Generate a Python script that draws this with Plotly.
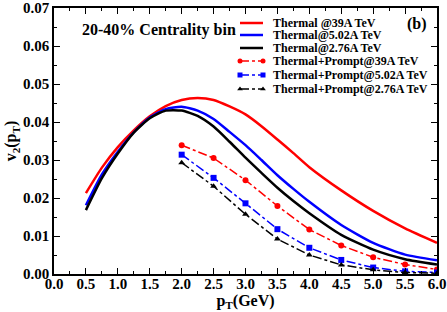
import plotly.graph_objects as go

pt_th = [0.5, 0.75, 1.0, 1.25, 1.5, 1.75, 2.0, 2.25, 2.5, 2.75, 3.0, 3.25, 3.5, 3.75, 4.0, 4.5, 5.0, 5.5, 6.0]
th_39 = [0.0213, 0.0280, 0.0334, 0.0378, 0.0415, 0.0442, 0.0458, 0.0463, 0.0458, 0.0441, 0.0420, 0.0389, 0.0354, 0.0318, 0.0281, 0.0220, 0.0166, 0.0120, 0.0082]
th_502 = [0.0181, 0.0262, 0.0322, 0.0373, 0.0412, 0.0434, 0.0440, 0.0430, 0.0408, 0.0374, 0.0339, 0.0300, 0.0260, 0.0224, 0.0190, 0.0129, 0.0082, 0.0051, 0.0036]
th_276 = [0.0168, 0.0252, 0.0317, 0.0372, 0.0410, 0.0430, 0.0430, 0.0416, 0.0388, 0.0348, 0.0306, 0.0266, 0.0227, 0.0192, 0.0160, 0.0103, 0.0064, 0.0039, 0.0025]

pt_pr = [2.0, 2.5, 3.0, 3.5, 4.0, 4.5, 5.0, 5.5, 6.0]
pr_39 = [0.0339, 0.0305, 0.0247, 0.0179, 0.0117, 0.0075, 0.0044, 0.0025, 0.0012]
pr_502 = [0.0314, 0.0253, 0.0186, 0.0118, 0.0069, 0.0037, 0.0017, 0.0007, 0.0004]
pr_276 = [0.0293, 0.0231, 0.0157, 0.0092, 0.0050, 0.0024, 0.0011, 0.0004, 0.0002]

x_ticks = [0.0, 0.5, 1.0, 1.5, 2.0, 2.5, 3.0, 3.5, 4.0, 4.5, 5.0, 5.5, 6.0]
y_ticks = [0.00, 0.01, 0.02, 0.03, 0.04, 0.05, 0.06, 0.07]

thermal_names = ["Thermal @39A TeV", "Thermal@5.02A TeV", "Thermal@2.76A TeV"]
prompt_names = ["Thermal+Prompt@39A TeV", "Thermal+Prompt@5.02A TeV", "Thermal+Prompt@2.76A TeV"]

FONT = "Liberation Serif"
RED, BLUE, BLACK = "#ff0000", "#0000ff", "#000000"
colors = [RED, BLUE, BLACK]
symbols = ["circle", "square", "triangle-up"]

W, H = 447, 312
ML, MR, MT, MB = 54, 10, 8, 38
PW, PH = W - ML - MR, H - MT - MB


def px(xp):
    return (xp - ML) / PW


def py(yp):
    return (H - MB - yp) / PH


fig = go.Figure()
for name, y, c in zip(thermal_names, [th_39, th_502, th_276], colors):
    fig.add_trace(go.Scatter(x=pt_th, y=y, mode="lines", name=name, showlegend=False,
                             line=dict(color=c, width=2.5, shape="spline", smoothing=0.6)))
for name, y, c, sym in zip(prompt_names, [pr_39, pr_502, pr_276], colors, symbols):
    fig.add_trace(go.Scatter(x=pt_pr, y=y, mode="lines+markers", name=name, showlegend=False,
                             line=dict(color=c, width=1.5, dash="dashdot"),
                             marker=dict(symbol=sym, size=6, color=c)))

tickfont = dict(family=FONT, size=15, color="black", weight="bold")
axis_common = dict(showline=True, linecolor="black", linewidth=1.5, mirror="ticks",
                   ticks="inside", ticklen=6, tickwidth=1, tickcolor="black",
                   showgrid=False, zeroline=False, automargin=False, tickfont=tickfont)
fig.update_xaxes(range=[0, 6], tickvals=x_ticks, ticktext=[f"{v:.1f}" for v in x_ticks],
                 minor=dict(ticks="inside", ticklen=3, dtick=0.25, tickcolor="black"),
                 title=dict(text="p<sub>T</sub>(GeV)", font=dict(family=FONT, size=16, color="black", weight="bold"), standoff=0),
                 ticklabelstandoff=-5,
                 **axis_common)
fig.update_yaxes(range=[0, 0.07], tickvals=y_ticks, ticktext=[f"{v:.2f}" for v in y_ticks],
                 minor=dict(ticks="inside", ticklen=3, dtick=0.005, tickcolor="black"),
                 title=dict(text="v<sub>2</sub>(p<sub>T</sub>)", font=dict(family=FONT, size=16, color="black", weight="bold"), standoff=2),
                 **axis_common)

shapes = []
annotations = [
    dict(text="<b>20-40% Centrality bin</b>", x=px(80), y=py(30), xref="paper", yref="paper",
         xanchor="left", yanchor="middle", showarrow=False, font=dict(family=FONT, size=16, color="black")),
    dict(text="<b>(b)</b>", x=px(429), y=py(24), xref="paper", yref="paper",
         xanchor="right", yanchor="middle", showarrow=False, font=dict(family=FONT, size=16, color="black")),
]
rows = [23, 35, 48, 61, 75, 89]
lx0, lx1, tx = 240, 263, 271
all_names = thermal_names + prompt_names
for i, (name, yrow) in enumerate(zip(all_names, rows)):
    c = colors[i % 3]
    if i < 3:
        shapes.append(dict(type="line", xref="paper", yref="paper", x0=px(lx0), x1=px(lx1),
                           y0=py(yrow), y1=py(yrow), line=dict(color=c, width=2.5)))
    else:
        shapes.append(dict(type="line", xref="paper", yref="paper", x0=px(lx0), x1=px(lx1),
                           y0=py(yrow), y1=py(yrow), line=dict(color=c, width=1.5, dash="dashdot")))
    annotations.append(dict(text=f"<b>{name}</b>", x=px(tx), y=py(yrow), xref="paper", yref="paper",
                            xanchor="left", yanchor="middle", showarrow=False,
                            font=dict(family=FONT, size=12, color="black")))

# legend markers at both ends of the sample lines
for i in range(3):
    yrow = rows[3 + i]
    fig.add_trace(go.Scatter(x=[px(lx0), px(lx1)], y=[py(yrow), py(yrow)], xaxis="x2", yaxis="y2",
                             mode="markers", showlegend=False, hoverinfo="skip",
                             marker=dict(symbol=symbols[i], size=5, color=colors[i])))

fig.update_layout(
    width=W, height=H,
    margin=dict(l=ML, r=MR, t=MT, b=MB),
    paper_bgcolor="white", plot_bgcolor="white",
    font=dict(family=FONT, color="black"),
    showlegend=False,
    xaxis2=dict(overlaying="x", range=[0, 1], visible=False, anchor="y2"),
    yaxis2=dict(overlaying="y", range=[0, 1], visible=False, anchor="x2"),
    shapes=shapes,
    annotations=annotations,
)
fig.write_html("out.html", config={"displayModeBar": False},
               post_script="document.body.style.margin='0';document.body.style.overflow='hidden';")
